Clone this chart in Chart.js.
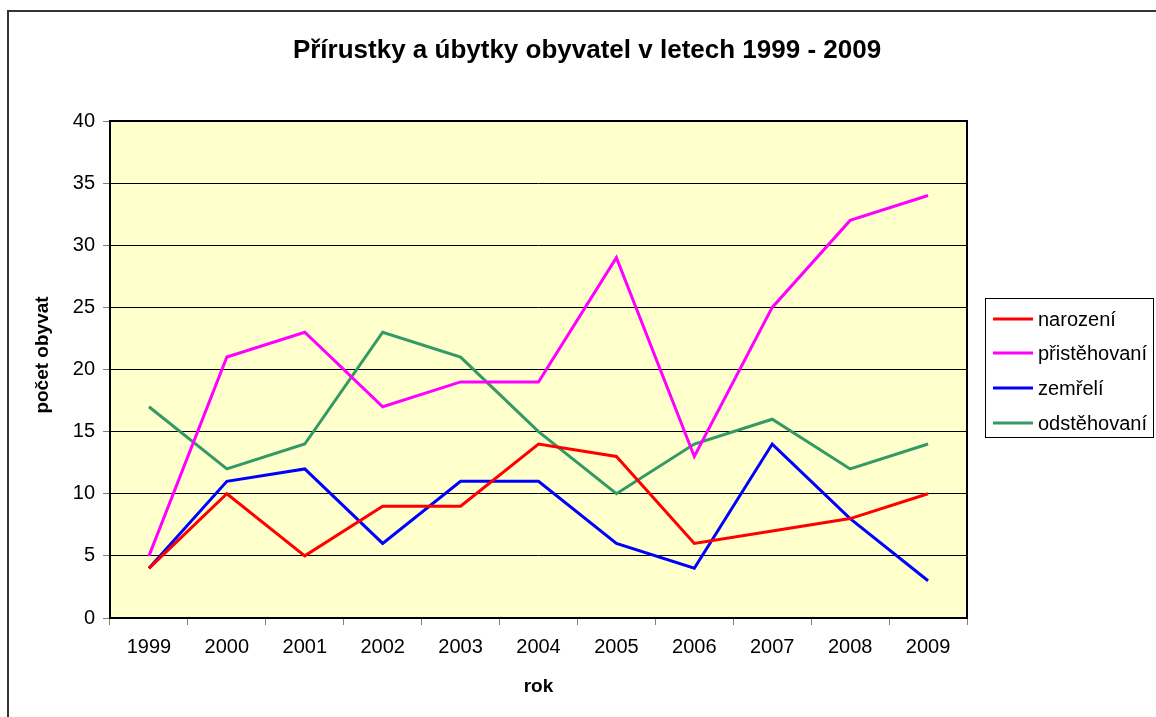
<!DOCTYPE html>
<html>
<head>
<meta charset="utf-8">
<script src="https://cdn.jsdelivr.net/npm/chart.js@4"></script>
<style>
html,body{margin:0;padding:0;background:#fff;}
#wrap{width:1156px;height:717px;position:relative;}
canvas{display:block;}
</style>
</head>
<body>
<div id="wrap"><canvas id="c" width="1156" height="717" style="width:1156px;height:717px"></canvas></div>
<script>
const chartTitle = 'Přírustky a úbytky obyvatel v letech 1999 - 2009';
const xTitle = 'rok';
const yTitle = 'počet obyvat';
const categories = ['1999','2000','2001','2002','2003','2004','2005','2006','2007','2008','2009'];
const seriesNames = ['narození','přistěhovaní','zemřelí','odstěhovaní'];
const narozeni = [4,10,5,9,9,14,13,6,7,8,10];
const pristehovani = [5,21,23,17,19,19,29,13,25,32,34];
const zemreli = [4,11,12,6,11,11,6,4,14,8,3];
const odstehovani = [17,12,14,23,21,15,10,14,16,12,14];
const yMin = 0, yMax = 40, yStep = 5;

const FONT = '"Liberation Sans", Arial, sans-serif';
const colors = ['#FF0000','#FF00FF','#0000FF','#339966'];
const seriesData = [narozeni, pristehovani, zemreli, odstehovani];

const decor = {
  id: 'decor',
  beforeDraw(chart) {
    const ctx = chart.ctx, a = chart.chartArea;
    ctx.save();
    ctx.fillStyle = '#ffffff';
    ctx.fillRect(0, 0, chart.width, chart.height);
    ctx.fillStyle = '#FFFFCC';
    ctx.fillRect(a.left, a.top, a.right - a.left, a.bottom - a.top);
    ctx.strokeStyle = '#333333';
    ctx.lineWidth = 2;
    ctx.strokeRect(8, 11, 1300, 900);
    ctx.restore();
  },
  afterDraw(chart) {
    const ctx = chart.ctx, a = chart.chartArea;
    ctx.save();
    // plot border
    ctx.strokeStyle = '#000000';
    ctx.lineWidth = 2;
    ctx.strokeRect(a.left, a.top, a.right - a.left, a.bottom - a.top);
    // title
    ctx.fillStyle = '#000';
    ctx.font = 'bold 26px ' + FONT;
    ctx.textAlign = 'center';
    ctx.textBaseline = 'alphabetic';
    ctx.fillText(chartTitle, 587, 58);
    // x title
    ctx.font = 'bold 19px ' + FONT;
    ctx.fillText(xTitle, (a.left + a.right) / 2, 692);
    // y title
    ctx.save();
    ctx.translate(48, 355);
    ctx.rotate(-Math.PI / 2);
    ctx.fillText(yTitle, 0, 0);
    ctx.restore();
    // legend
    const lx = 985, ly = 298, lw = 168, lh = 139;
    ctx.fillStyle = '#fff';
    ctx.fillRect(lx, ly, lw, lh);
    ctx.strokeStyle = '#000';
    ctx.lineWidth = 1;
    ctx.strokeRect(lx + 0.5, ly + 0.5, lw, lh);
    const rows = [319, 353, 388, 423];
    ctx.font = '20px ' + FONT;
    ctx.textAlign = 'left';
    ctx.textBaseline = 'middle';
    chart.data.datasets.forEach((ds, i) => {
      ctx.strokeStyle = ds.borderColor;
      ctx.lineWidth = 3;
      ctx.beginPath();
      ctx.moveTo(993, rows[i]);
      ctx.lineTo(1033, rows[i]);
      ctx.stroke();
      ctx.fillStyle = '#000';
      ctx.fillText(ds.label, 1038, rows[i] + 1);
    });
    ctx.restore();
  }
};

new Chart(document.getElementById('c'), {
  type: 'line',
  data: {
    labels: categories,
    datasets: seriesNames.map((n, i) => ({
      label: n,
      data: seriesData[i],
      borderColor: colors[i],
      backgroundColor: colors[i],
      borderWidth: 3,
      pointRadius: 0,
      tension: 0,
      fill: false
    }))
  },
  options: {
    responsive: false,
    animation: false,
    devicePixelRatio: 1,
    layout: { padding: { left: 0, top: 121, right: 189, bottom: 0 } },
    plugins: { legend: { display: false }, title: { display: false }, tooltip: { enabled: false } },
    scales: {
      x: {
        type: 'category',
        offset: true,
        grid: { offset: true, drawOnChartArea: false, drawTicks: true, tickLength: 7, color: '#808080' },
        border: { display: false },
        ticks: { color: '#000', font: { family: FONT, size: 20 }, padding: 10, maxRotation: 0, autoSkip: false },
        afterFit(s) { s.height = 99; }
      },
      y: {
        min: yMin, max: yMax,
        ticks: { stepSize: yStep, color: '#000', font: { family: FONT, size: 20 }, padding: 8 },
        grid: { color: '#000', lineWidth: 1, tickLength: 7, tickColor: '#808080' },
        border: { display: false },
        afterFit(s) { s.width = 110; }
      }
    }
  },
  plugins: [decor]
});
</script>
</body>
</html>
